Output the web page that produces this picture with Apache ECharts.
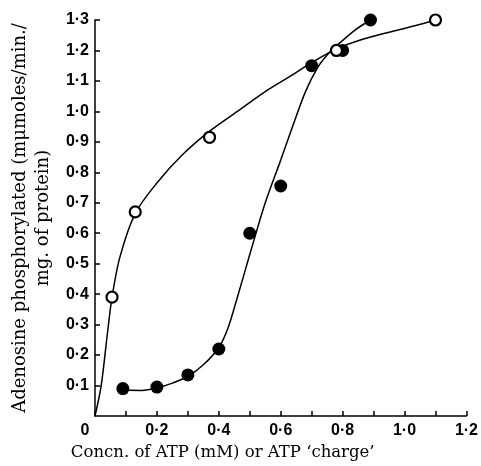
<!DOCTYPE html>
<html>
<head>
<meta charset="utf-8">
<script src="https://cdn.jsdelivr.net/npm/echarts@6/dist/echarts.min.js"></script>
<style>
html, body { margin: 0; padding: 0; background: #fff; }
#chart { width: 481px; height: 466px; }
</style>
</head>
<body>
<div id="chart"></div>
<script>
// measured points, open circles
const openPoints = [[0.055, 0.39], [0.13, 0.67], [0.37, 0.915], [0.78, 1.2], [1.10, 1.30]]
// measured points, filled circles
const filledPoints = [[0.09, 0.09], [0.20, 0.095], [0.30, 0.135], [0.40, 0.22], [0.50, 0.60],
	[0.60, 0.755], [0.70, 1.15], [0.80, 1.20], [0.89, 1.30]]
// hand-drawn fitted curves
const openCurve = [[0, 0], [0.02, 0.1], [0.04, 0.27], [0.055, 0.39], [0.08, 0.52], [0.13, 0.665],
	[0.2, 0.765], [0.28, 0.855], [0.37, 0.935], [0.46, 1.0], [0.55, 1.065], [0.63, 1.115],
	[0.70, 1.16], [0.78, 1.205], [0.86, 1.235], [0.95, 1.26], [1.03, 1.28], [1.10, 1.30]]
const filledCurve = [[0.09, 0.085], [0.15, 0.084], [0.2, 0.092], [0.25, 0.108], [0.3, 0.13],
	[0.35, 0.168], [0.4, 0.225], [0.43, 0.29], [0.46, 0.39], [0.5, 0.53], [0.55, 0.70],
	[0.6, 0.84], [0.64, 0.955], [0.68, 1.065], [0.72, 1.145], [0.75, 1.185], [0.78, 1.215],
	[0.84, 1.267], [0.89, 1.30]]

const xName = 'Concn. of ATP (mM) or ATP ‘charge’'
const yName = 'Adenosine phosphorylated (mμmoles/min./\nmg. of protein)'

const dot = v => String(Number(v).toFixed(1)).replace('.', '·')

const chart = echarts.init(document.getElementById('chart'))
const labelFont = { color: '#000', fontFamily: 'Liberation Sans', fontWeight: 'bold', fontSize: 16 }

chart.setOption({
	animation: false,
	grid: { left: 95, right: 13, top: 20, bottom: 50 },
	xAxis: {
		type: 'value',
		min: 0,
		max: 1.2,
		interval: 0.1,
		name: xName,
		nameLocation: 'middle',
		nameGap: 28,
		nameTextStyle: { color: '#000', fontFamily: 'DejaVu Serif', fontSize: 16.5, padding: [0, 116, 0, 0] },
		axisLine: { lineStyle: { color: '#000', width: 1.5 } },
		axisTick: { inside: true, length: 5, lineStyle: { color: '#000', width: 1.5 } },
		splitLine: { show: false },
		axisLabel: Object.assign({}, labelFont, {
			margin: 7,
			formatter: v => {
				if (v === 0) return '{o|0}'
				const r = Math.round(v * 10)
				return r % 2 === 0 ? dot(v) : ''
			},
			rich: { o: Object.assign({}, labelFont, { padding: [0, 20, 0, 0] }) }
		})
	},
	yAxis: {
		type: 'value',
		min: 0,
		max: 1.3,
		interval: 0.1,
		name: yName,
		nameLocation: 'middle',
		nameRotate: 90,
		nameGap: 40,
		nameTextStyle: { color: '#000', fontFamily: 'DejaVu Serif', fontSize: 18, lineHeight: 23 },
		axisLine: { show: true, lineStyle: { color: '#000', width: 1.5 } },
		axisTick: { show: true, inside: true, length: 5, lineStyle: { color: '#000', width: 1.5 } },
		splitLine: { show: false },
		axisLabel: Object.assign({}, labelFont, {
			margin: 6,
			showMinLabel: false,
			formatter: v => dot(v)
		})
	},
	series: [
		{
			type: 'line',
			data: openCurve,
			smooth: 0.3,
			showSymbol: false,
			lineStyle: { color: '#000', width: 1.5 }
		},
		{
			type: 'line',
			data: filledCurve,
			smooth: 0.3,
			showSymbol: false,
			lineStyle: { color: '#000', width: 1.5 }
		},
		{
			type: 'scatter',
			data: openPoints,
			symbol: 'circle',
			symbolSize: 11,
			itemStyle: { color: '#fff', borderColor: '#000', borderWidth: 2.2, opacity: 1 },
			z: 5
		},
		{
			type: 'scatter',
			data: filledPoints,
			symbol: 'circle',
			symbolSize: 13,
			itemStyle: { color: '#000', opacity: 1 },
			z: 4
		}
	]
})
</script>
</body>
</html>
